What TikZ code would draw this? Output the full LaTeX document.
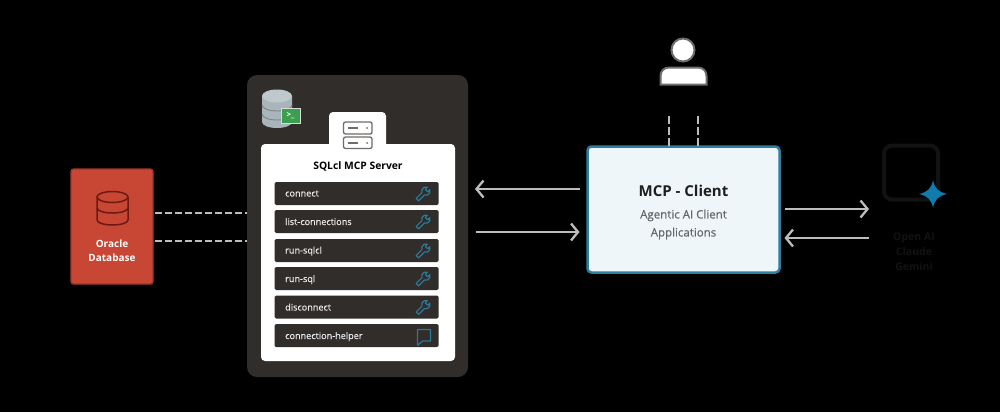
\documentclass[tikz,border=0pt]{standalone}
\usepackage{fontspec}
\setmainfont{Open Sans}
\usetikzlibrary{arrows.meta}
\definecolor{panelc}{HTML}{312D2A}
\definecolor{redc}{HTML}{C74634}
\definecolor{redd}{HTML}{6E1A10}
\definecolor{lined}{HTML}{BFBDBB}
\definecolor{bluec}{HTML}{2B7A9B}
\definecolor{clientc}{HTML}{EEF6FA}
\definecolor{tealc}{HTML}{2E7F9F}
\definecolor{starc}{HTML}{0F7CAD}
\definecolor{ghostc}{HTML}{121212}
\definecolor{iconc}{HTML}{6F6C6A}
\definecolor{cylc}{HTML}{A8B6BC}
\definecolor{greenc}{HTML}{3C9F4F}
\tikzset{
  box/.style={inner sep=0pt,outer sep=0pt,anchor=north west},
  rowbox/.style={box,fill=panelc,rounded corners=1.5pt,minimum width=164pt,minimum height=23pt},
  rowlabel/.style={anchor=base west,inner sep=0pt,text=white!92!black,font=\fontsize{9.1}{11}\selectfont\addfontfeature{FakeBold=0.4}},
  flow/.style={draw=lined,line width=2.3pt,-{Straight Barb[length=7pt,width=17pt,line width=2.3pt]}},
  dashlink/.style={draw=lined,line width=2.4pt,dash pattern=on 6.5pt off 3.5pt},
  wrenchicon/.style={draw=bluec,line width=1.2pt,line join=round},
}
\newcommand{\wrenchat}[2]{%
  \begin{scope}[shift={(#1,#2)},rotate=45]
    \draw[wrenchicon] (-8,-1.7) -- (0.08,-1.7) arc[start angle=204,end angle=336,radius=4.2]
      -- (5,-1.7) -- (5,1.7) -- (7.84,1.7) arc[start angle=24,end angle=156,radius=4.2]
      -- (-8,1.7) -- cycle;
  \end{scope}}
\begin{document}
\begin{tikzpicture}[x=1pt,y=-1pt]
\useasboundingbox (0,0) rectangle (1000,412);
\fill[black] (0,0) rectangle (1000,412);
% server panel
\node[box,fill=panelc,rounded corners=10pt,minimum width=221pt,minimum height=302pt] (panel) at (247,75) {};
\fill[white,rounded corners=4pt] (329,160) -- (329,112) -- (386,112) -- (386,160) -- cycle;
\node[box,fill=white,rounded corners=4pt,minimum width=194pt,minimum height=217pt] (card) at (261,144) {};
% server icon
\draw[iconc,line width=1.3pt,fill=white,rounded corners=2pt] (343.5,122) rectangle (372,134);
\draw[iconc,line width=1.3pt,fill=white,rounded corners=2pt] (343.5,137) rectangle (372,148.5);
\draw[iconc,line width=1.2pt] (348,128) -- (358,128) (348,143) -- (358,143);
\fill[iconc] (367,128) circle (1pt) (367,143) circle (1pt);
% sql icon
\fill[cylc] (262,96) -- (262,122) arc[start angle=180,end angle=0,x radius=15,y radius=6] -- (292,96) -- cycle;
\fill[cylc!75!white] (277,96) ellipse (15 and 6.5);
\draw[iconc!70!cylc,line width=.9pt] (262,105) arc[start angle=180,end angle=0,x radius=15,y radius=6];
\draw[iconc!70!cylc,line width=.9pt] (262,114) arc[start angle=180,end angle=0,x radius=15,y radius=6];
\node[box,fill=greenc,draw=white!85!black,line width=.5pt,minimum width=19pt,minimum height=15pt,text=white,font=\bfseries\fontsize{8}{9}\selectfont] (term) at (281,108) {>\_};
\node[inner sep=0pt,font=\bfseries\fontsize{10.3}{12}\selectfont,text=black] (title) at (358,166) {SQLcl MCP Server};
% rows
\node[rowbox] (r1) at (274.5,182) {};
\node[rowbox] (r2) at (274.5,210) {};
\node[rowbox] (r3) at (274.5,239) {};
\node[rowbox] (r4) at (274.5,267) {};
\node[rowbox] (r5) at (274.5,295.5) {};
\node[rowbox] (r6) at (274.5,324) {};
\node[rowlabel] (l1) at (285,196.5) {connect};
\node[rowlabel] (l2) at (285,225) {list-connections};
\node[rowlabel] (l3) at (285,253.5) {run-sqlcl};
\node[rowlabel] (l4) at (285,282) {run-sql};
\node[rowlabel] (l5) at (285,310.5) {disconnect};
\node[rowlabel] (l6) at (285,339) {connection-helper};
\wrenchat{423}{194}
\wrenchat{423}{222}
\wrenchat{423}{251}
\wrenchat{423}{279}
\wrenchat{423}{307.5}
\draw[bluec,line width=1.2pt,line join=round] (417.5,329.5) -- (430.5,329.5) -- (430.5,341) -- (422.5,341) -- (418,345) -- (417.5,345) -- cycle;
% oracle database
\node[box,fill=redc,draw=redc!80!black,line width=1.2pt,rounded corners=2.5pt,minimum width=82pt,minimum height=115pt] (db) at (71,169) {};
\draw[redd,line width=1.5pt] (97,197) -- (97,220) arc[start angle=180,end angle=0,x radius=15.5,y radius=5] -- (128,197);
\draw[redd,line width=1.5pt] (112.5,197) ellipse (15.5 and 5.5);
\draw[redd,line width=1.5pt] (97,208) arc[start angle=180,end angle=0,x radius=15.5,y radius=5];
\node[align=center,inner sep=0pt,text=white,font=\bfseries\fontsize{10}{14}\selectfont] (dblabel) at (112,250.5) {Oracle\\Database};
\draw[dashlink,shorten <=2pt] (db.east |- 0,213) -- (panel.west |- 0,213);
\draw[dashlink,shorten <=2pt] (db.east |- 0,241) -- (panel.west |- 0,241);
% client
\node[box,fill=clientc,draw=tealc,line width=2.5pt,rounded corners=4pt,minimum width=192pt,minimum height=126pt] (client) at (587.5,146.5) {};
\node[inner sep=0pt,text=black!88,font=\bfseries\fontsize{15}{18}\selectfont] (clienttitle) at (683.5,191) {MCP - Client};
\node[align=center,inner sep=0pt,text=black!60,font=\fontsize{11.5}{18}\selectfont\addfontfeature{FakeBold=0.3}] (clientsub) at (683.5,224.5) {Agentic AI Client\\Applications};
\draw[flow,shorten <=8pt,shorten >=7pt] (client.west |- 0,189) -- (panel.east |- 0,189);
\draw[flow,shorten <=8pt,shorten >=8pt] (panel.east |- 0,232) -- (client.west |- 0,232);
% person
\draw[iconc,line width=2pt,fill=white] (683,50) circle (11.5);
\draw[iconc,line width=2pt,fill=white] (660.5,84.5) -- (660.5,76) .. controls (660.5,71) and (664,67.5) .. (669,67.5) -- (698,67.5) .. controls (703,67.5) and (706.5,71) .. (706.5,76) -- (706.5,84.5) -- cycle;
\coordinate (u1) at (669,116);
\coordinate (u2) at (697.5,116);
\draw[draw=lined,line width=2pt,dash pattern=on 8pt off 3pt] (u1) -- (client.north -| u1);
\draw[draw=lined,line width=2pt,dash pattern=on 8pt off 3pt] (u2) -- (client.north -| u2);
% ghost llm
\node[box,draw=ghostc,line width=4pt,rounded corners=8pt,minimum width=54pt,minimum height=54pt] (llm) at (884,145.5) {};
\fill[starc] (933,180) .. controls (934.5,188) and (938,192) .. (947,194) .. controls (938,196) and (934.5,200) .. (933,208) .. controls (931.5,200) and (928,196) .. (919,194) .. controls (928,192) and (931.5,188) .. (933,180) -- cycle;
\node[align=center,inner sep=0pt,text=ghostc,font=\bfseries\fontsize{10.5}{15}\selectfont] (llmlabel) at (914,252) {Open AI\\Claude\\Gemini};
\draw[flow,shorten <=5pt,shorten >=15pt] (client.east |- 0,209) -- (llm.west |- 0,209);
\draw[flow,shorten <=15pt,shorten >=5pt] (llm.west |- 0,238) -- (client.east |- 0,238);
\end{tikzpicture}
\end{document}
